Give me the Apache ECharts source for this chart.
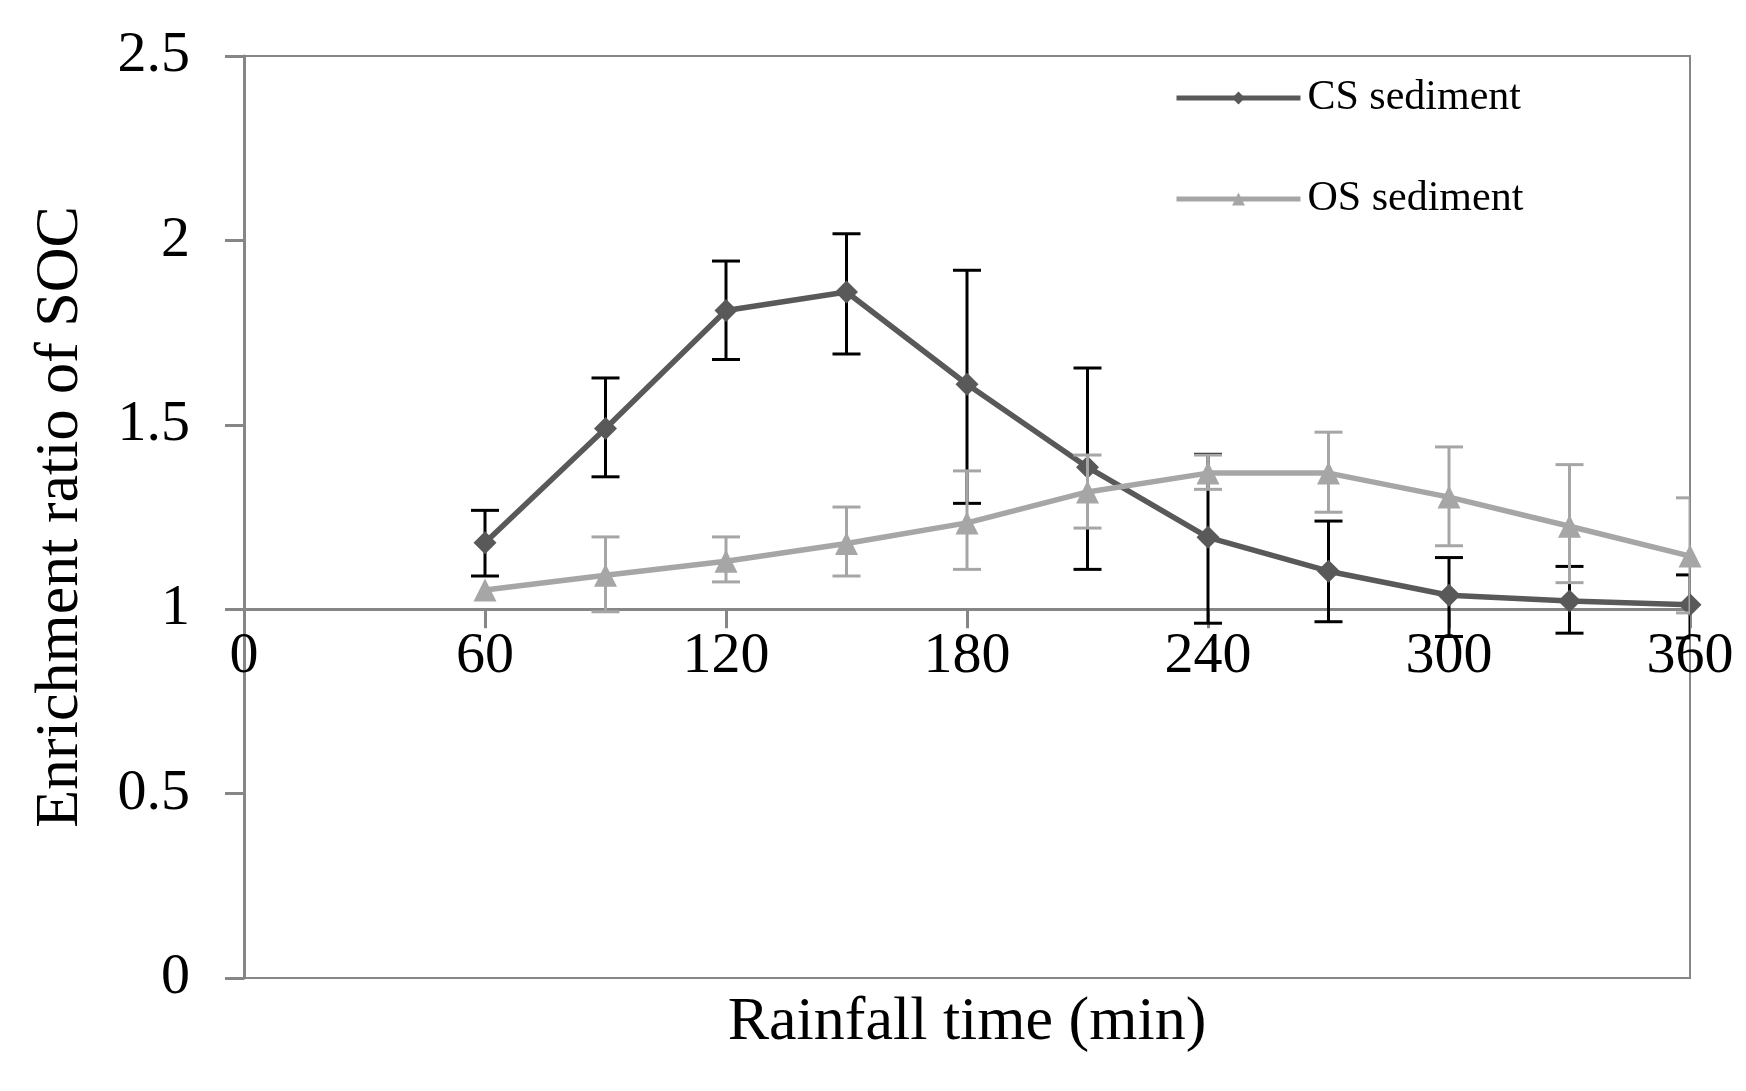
<!DOCTYPE html>
<html>
<head>
<meta charset="utf-8">
<script src="https://cdn.jsdelivr.net/npm/echarts@6/dist/echarts.min.js"></script>
<style>
  html, body { margin: 0; padding: 0; background: #fff; }
  #chart { width: 1746px; height: 1091px; }
</style>
</head>
<body>
<div id="chart"></div>
<script>
// Data
var times = [60, 90, 120, 150, 180, 210, 240, 270, 300, 330, 360];

var csMean = [1.18, 1.49, 1.81, 1.86, 1.61, 1.385, 1.195, 1.103, 1.038, 1.022, 1.012];
var csHigh = [1.268, 1.627, 1.944, 2.018, 1.919, 1.654, 1.42, 1.239, 1.14, 1.116, 1.093];
var csLow = [1.09, 1.359, 1.677, 1.692, 1.287, 1.108, 0.962, 0.966, 0.926, 0.935, 0.922];

var osMean = [1.052, 1.092, 1.13, 1.178, 1.234, 1.318, 1.369, 1.369, 1.304, 1.225, 1.144];
var osHigh = [1.052, 1.196, 1.196, 1.277, 1.375, 1.418, 1.418, 1.48, 1.44, 1.392, 1.302];
var osLow = [1.052, 0.993, 1.074, 1.09, 1.108, 1.22, 1.325, 1.263, 1.172, 1.072, 0.99];

var yTicks = [0, 0.5, 1, 1.5, 2, 2.5];
var xTicks = [0, 60, 120, 180, 240, 300, 360];

var chart = echarts.init(document.getElementById('chart'));

var font = 'Liberation Serif';
var axisGray = '#868686';
var gridTop = 56, gridBottom = 113;
var gridHeight = 1091 - gridTop - gridBottom;
// the labelled time axis sits on the y = 1 line
var crossOffset = -gridHeight * (1 - yTicks[0]) / (yTicks[yTicks.length - 1] - yTicks[0]);

function pairs(xs, ys) {
    var out = [];
    for (var i = 0; i < xs.length; i++) {
        out.push([xs[i], ys[i]]);
    }
    return out;
}

function errData(xs, lo, hi) {
    var out = [];
    for (var i = 0; i < xs.length; i++) {
        out.push([xs[i], lo[i], hi[i]]);
    }
    return out;
}

function errRenderer(color) {
    return function (params, api) {
        var x = api.value(0), lo = api.value(1), hi = api.value(2);
        if (lo === hi) return;
        var top = api.coord([x, hi]);
        var bot = api.coord([x, lo]);
        var w = 14;
        var st = { stroke: color, lineWidth: 3 };
        return {
            type: 'group',
            children: [
                { type: 'line', shape: { x1: top[0], y1: top[1], x2: bot[0], y2: bot[1] }, style: st },
                { type: 'line', shape: { x1: top[0] - w, y1: top[1], x2: top[0] + w, y2: top[1] }, style: st },
                { type: 'line', shape: { x1: bot[0] - w, y1: bot[1], x2: bot[0] + w, y2: bot[1] }, style: st }
            ]
        };
    };
}

var option = {
    backgroundColor: '#fff',
    animation: false,
    textStyle: { fontFamily: font, color: '#000' },
    grid: {
        left: 244, right: 56, top: gridTop, bottom: gridBottom,
        show: true, borderColor: axisGray, borderWidth: 2
    },
    legend: {
        orient: 'vertical',
        left: 1169,
        top: 72,
        itemWidth: 124,
        itemHeight: 16,
        itemGap: 59,
        lineStyle: { width: 5 },
        textStyle: { fontFamily: font, fontSize: 42, color: '#000', padding: [0, 0, 0, 2] },
        data: ['CS sediment', 'OS sediment']
    },
    xAxis: [
        {
            type: 'value',
            min: 0, max: 360, interval: 60,
            position: 'bottom',
            name: 'Rainfall time (min)',
            nameLocation: 'middle',
            nameGap: 14,
            nameTextStyle: { fontFamily: font, fontSize: 62, color: '#000' },
            axisLine: { show: true, lineStyle: { color: axisGray, width: 2 } },
            axisTick: { show: false },
            axisLabel: { show: false },
            splitLine: { show: false }
        },
        {
            type: 'value',
            min: 0, max: 360, interval: 60,
            position: 'bottom',
            offset: crossOffset,
            axisLine: { show: true, onZero: false, lineStyle: { color: axisGray, width: 3 } },
            axisTick: { show: true, length: 19, lineStyle: { color: axisGray, width: 3 } },
            axisLabel: {
                margin: 19, fontFamily: font, fontSize: 58, color: '#000',
                formatter: function (v) { return xTicks.indexOf(v) >= 0 ? String(v) : ''; }
            },
            splitLine: { show: false }
        }
    ],
    yAxis: {
        type: 'value',
        min: yTicks[0], max: yTicks[yTicks.length - 1], interval: 0.5,
        name: 'Enrichment ratio of SOC',
        nameLocation: 'middle',
        nameGap: 152,
        nameTextStyle: { fontFamily: font, fontSize: 62, color: '#000' },
        axisLine: { show: true, lineStyle: { color: axisGray, width: 3 } },
        axisTick: { show: true, length: 19, lineStyle: { color: axisGray, width: 3 } },
        axisLabel: { margin: 54, fontFamily: font, fontSize: 58, color: '#000' },
        splitLine: { show: false }
    },
    series: [
        {
            name: 'CS err',
            type: 'custom',
            xAxisIndex: 0,
            clip: true,
            z: 2,
            renderItem: errRenderer('#000'),
            data: errData(times, csLow, csHigh)
        },
        {
            name: 'CS sediment',
            type: 'line',
            xAxisIndex: 0,
            z: 3,
            symbol: 'diamond',
            symbolSize: 23,
            color: '#595959',
            lineStyle: { color: '#595959', width: 5.5 },
            itemStyle: { color: '#595959' },
            data: pairs(times, csMean)
        },
        {
            name: 'OS err',
            type: 'custom',
            xAxisIndex: 0,
            clip: true,
            z: 4,
            renderItem: errRenderer('#a6a6a6'),
            data: errData(times, osLow, osHigh)
        },
        {
            name: 'OS sediment',
            type: 'line',
            xAxisIndex: 0,
            z: 5,
            symbol: 'triangle',
            symbolSize: 23,
            color: '#a6a6a6',
            lineStyle: { color: '#a6a6a6', width: 5.5 },
            itemStyle: { color: '#a6a6a6' },
            data: pairs(times, osMean)
        }
    ]
};

chart.setOption(option);
</script>
</body>
</html>
